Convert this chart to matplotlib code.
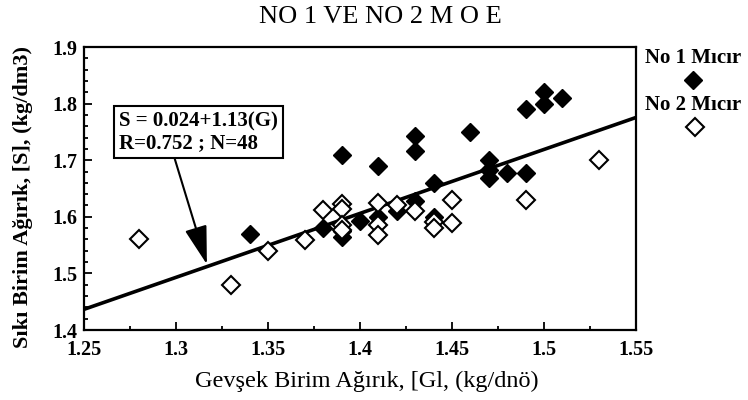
import numpy as np
import matplotlib
matplotlib.use("Agg")
import matplotlib.pyplot as plt
from matplotlib.lines import Line2D
from matplotlib.ticker import MultipleLocator

plt.rcParams['font.family'] = ['Liberation Serif', 'DejaVu Serif']

# No 1 Micir (filled diamonds)
g1 = [1.34, 1.38, 1.39, 1.39, 1.39, 1.40, 1.41, 1.41, 1.42, 1.43, 1.43, 1.43,
      1.44, 1.44, 1.46, 1.47, 1.47, 1.47, 1.48, 1.49, 1.49, 1.50, 1.50, 1.51]
s1 = [1.57, 1.58, 1.71, 1.565, 1.575, 1.592, 1.69, 1.60, 1.61, 1.742, 1.717, 1.628,
      1.66, 1.60, 1.749, 1.70, 1.683, 1.668, 1.678, 1.678, 1.79, 1.82, 1.80, 1.81]

# No 2 Micir (open diamonds)
g2 = [1.28, 1.33, 1.35, 1.37, 1.38, 1.39, 1.39, 1.39, 1.39, 1.41, 1.41, 1.41,
      1.42, 1.43, 1.44, 1.44, 1.45, 1.45, 1.49, 1.53]
s2 = [1.56, 1.48, 1.54, 1.559, 1.612, 1.622, 1.614, 1.585, 1.576, 1.624, 1.585, 1.568,
      1.621, 1.61, 1.59, 1.58, 1.63, 1.589, 1.63, 1.70]

# regression S = a + b*G
a, b = 0.024, 1.13
fit_x = np.array([1.25, 1.55])

xticks = [1.25, 1.3, 1.35, 1.4, 1.45, 1.5, 1.55]
xlabels = ["1.25", "1.3", "1.35", "1.4", "1.45", "1.5", "1.55"]
yticks = [1.4, 1.5, 1.6, 1.7, 1.8, 1.9]
ylabels = ["1.4", "1.5", "1.6", "1.7", "1.8", "1.9"]

fig = plt.figure(figsize=(7.48, 4.0), dpi=100)
ax = fig.add_axes([84 / 748, 70 / 400, 552 / 748, 283 / 400])

ax.plot(fit_x, a + b * fit_x, color='black', lw=2.6, zorder=2)
ax.plot(g1, s1, linestyle='none', marker='D', ms=9, mfc='black', mec='black', zorder=3)
ax.plot(g2, s2, linestyle='none', marker='D', ms=9, mfc='white', mec='black', mew=1.5, zorder=3)

ax.set_xlim(1.25, 1.55)
ax.set_ylim(1.4, 1.9)
ax.set_xticks(xticks)
ax.set_xticklabels(xlabels, fontweight='bold', fontsize=14.5)
ax.set_yticks(yticks)
ax.set_yticklabels(ylabels, fontweight='bold', fontsize=14.5)
ax.xaxis.set_minor_locator(MultipleLocator(0.025))
ax.yaxis.set_minor_locator(MultipleLocator(0.02))
ax.tick_params(which='both', direction='in', width=1.3)
ax.tick_params(which='major', length=6)
ax.tick_params(which='minor', length=3)
ax.tick_params(axis='x', which='major', pad=7)
ax.tick_params(axis='y', which='major', pad=5)
for sp in ax.spines.values():
    sp.set_linewidth(1.6)

ax.set_xlabel("Gevşek Birim Ağırık, [Gl, (kg/dnö)", fontsize=17.5)
ax.xaxis.set_label_coords(0.513, -0.145)
ax.set_ylabel("Sıkı Birim Ağırık, [S], (kg/dm3)", fontsize=16, fontweight='bold')
ax.yaxis.set_label_coords(-0.092, 0.47)

ax.annotate("S = 0.024+1.13(G)\nR=0.752 ; N=48",
            xy=(1.3168, 1.516), xytext=(1.2690, 1.786),
            ha='left', va='top', fontsize=15, fontweight='bold', linespacing=1.1,
            bbox=dict(boxstyle='square,pad=0.25', fc='white', ec='black', lw=1.5),
            arrowprops=dict(arrowstyle='-|>,head_length=1.2,head_width=0.35',
                            mutation_scale=20, color='black', lw=1.5,
                            relpos=(0.34, 0.0), shrinkA=0, shrinkB=0))

fig.text(380 / 748, 1 - 17 / 400, "NO 1 VE NO 2 M O E",
         ha='center', va='center', fontsize=19)

# legend on the right
fig.text(0.927, 0.855, "No 1 Mıcır", ha='center', va='center', fontsize=15, fontweight='bold')
fig.add_artist(Line2D([0.927], [0.80], marker='D', ms=9, mfc='black', mec='black',
                      transform=fig.transFigure))
fig.text(0.927, 0.7375, "No 2 Mıcır", ha='center', va='center', fontsize=15, fontweight='bold')
fig.add_artist(Line2D([0.929], [0.6825], marker='D', ms=9, mfc='white', mec='black',
                      mew=1.5, transform=fig.transFigure))

fig.savefig("out.png", dpi=100)
